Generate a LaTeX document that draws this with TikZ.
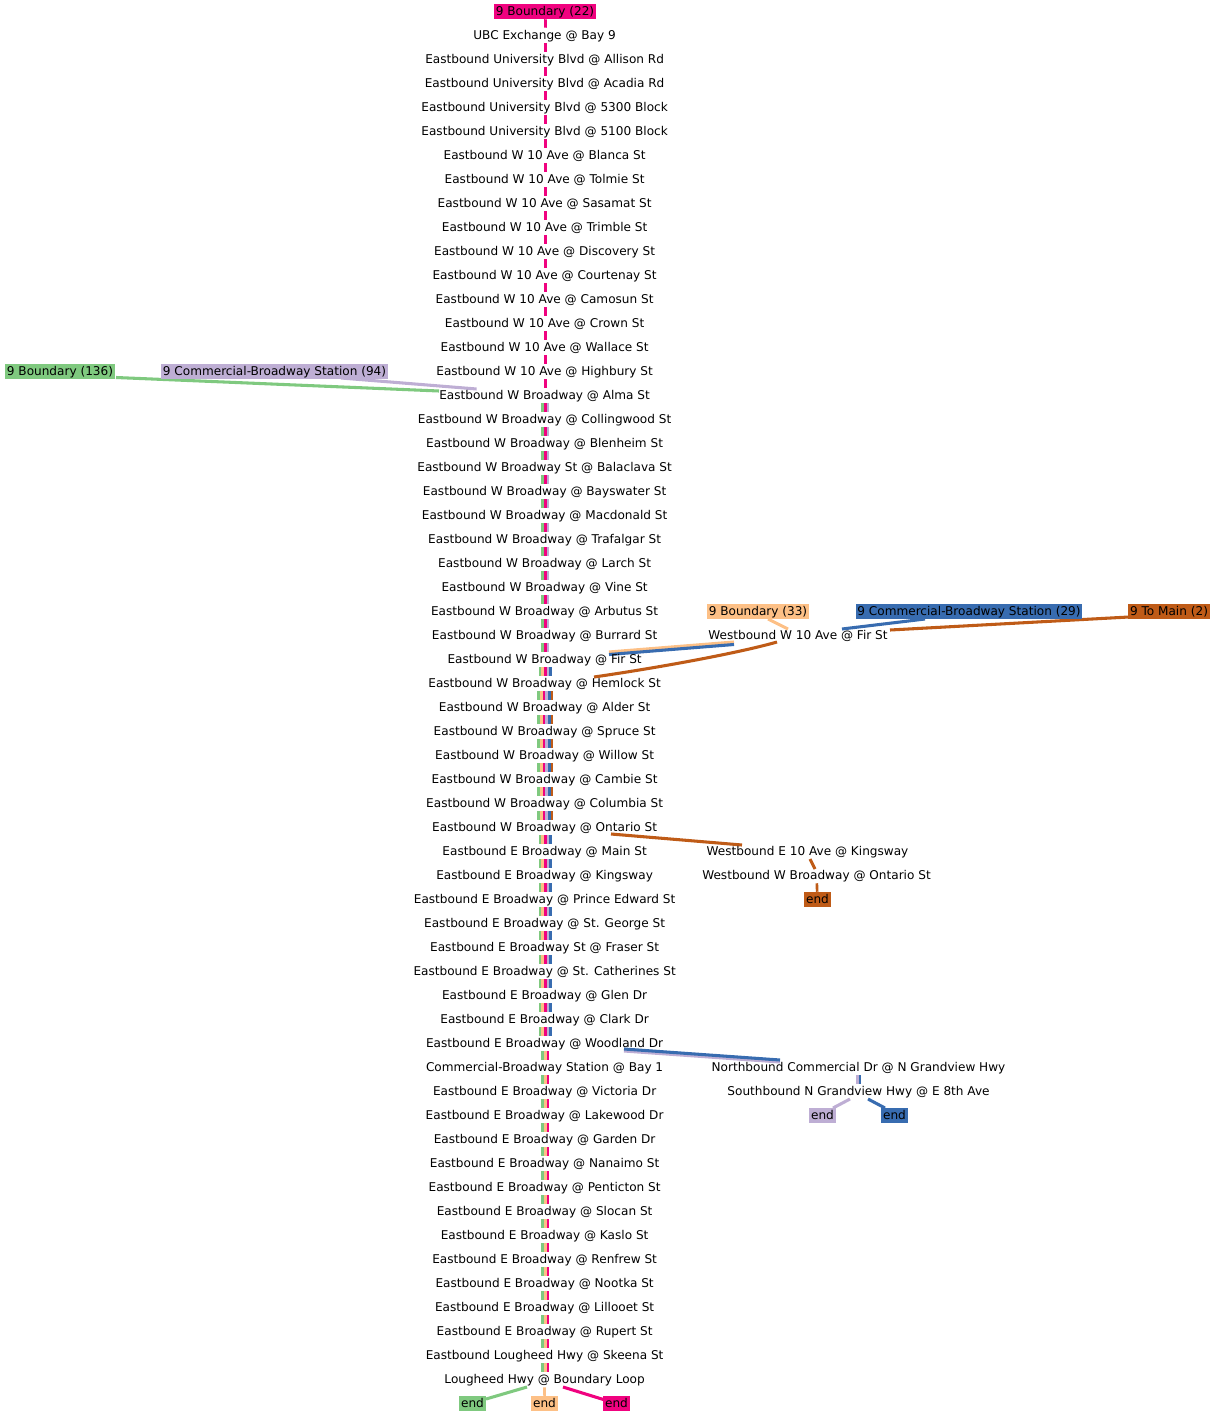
\documentclass[tikz,border=0pt]{standalone}
\usepackage{fontspec}
\setmainfont{DejaVu Sans}
\usetikzlibrary{calc,backgrounds}
\definecolor{ag}{HTML}{7FC97F}
\definecolor{ap}{HTML}{BEAED4}
\definecolor{ao}{HTML}{FDC086}
\definecolor{ab}{HTML}{386CB0}
\definecolor{ak}{HTML}{F0027F}
\definecolor{ar}{HTML}{BF5B17}
\tikzset{
  stop/.style={rectangle,inner xsep=1.4bp,inner ysep=0pt,minimum height=11.25bp,
    font=\fontsize{9.1}{10}\selectfont,text height=8.4bp,text depth=1.9bp,text=black},
  tag/.style={stop,fill=#1},
  edge/.style={line width=2.3bp,draw=#1},
  stripe/.style={line width=2bp,draw=#1},
}
\newcommand{\stripes}[3]{%
  \foreach \i [evaluate=\i as \j using int(\i+1)] in {#1,...,#2}{%
    \foreach \o/\c in {#3}{%
      \begin{scope}[on background layer]
      \draw[stripe=\c,transform canvas={xshift=\o*0.75bp}] (n\i) -- (n\j);
      \end{scope}
    }%
  }%
}
\begin{document}
\begin{tikzpicture}[x=0.75bp,y=-0.75bp]
\useasboundingbox (0,0) rectangle (1214,1416);
\node[tag=ak] (n0) at (545,11.5) {9 Boundary (22)};
\foreach \r/\t in {
1/UBC Exchange @ Bay 9,
2/Eastbound University Blvd @ Allison Rd,
3/Eastbound University Blvd @ Acadia Rd,
4/Eastbound University Blvd @ 5300 Block,
5/Eastbound University Blvd @ 5100 Block,
6/Eastbound W 10 Ave @ Blanca St,
7/Eastbound W 10 Ave @ Tolmie St,
8/Eastbound W 10 Ave @ Sasamat St,
9/Eastbound W 10 Ave @ Trimble St,
10/Eastbound W 10 Ave @ Discovery St,
11/Eastbound W 10 Ave @ Courtenay St,
12/Eastbound W 10 Ave @ Camosun St,
13/Eastbound W 10 Ave @ Crown St,
14/Eastbound W 10 Ave @ Wallace St,
15/Eastbound W 10 Ave @ Highbury St,
16/Eastbound W Broadway @ Alma St,
17/Eastbound W Broadway @ Collingwood St,
18/Eastbound W Broadway @ Blenheim St,
19/Eastbound W Broadway St @ Balaclava St,
20/Eastbound W Broadway @ Bayswater St,
21/Eastbound W Broadway @ Macdonald St,
22/Eastbound W Broadway @ Trafalgar St,
23/Eastbound W Broadway @ Larch St,
24/Eastbound W Broadway @ Vine St,
25/Eastbound W Broadway @ Arbutus St,
26/Eastbound W Broadway @ Burrard St,
27/Eastbound W Broadway @ Fir St,
28/Eastbound W Broadway @ Hemlock St,
29/Eastbound W Broadway @ Alder St,
30/Eastbound W Broadway @ Spruce St,
31/Eastbound W Broadway @ Willow St,
32/Eastbound W Broadway @ Cambie St,
33/Eastbound W Broadway @ Columbia St,
34/Eastbound W Broadway @ Ontario St,
35/Eastbound E Broadway @ Main St,
36/Eastbound E Broadway @ Kingsway,
37/Eastbound E Broadway @ Prince Edward St,
38/Eastbound E Broadway @ St. George St,
39/Eastbound E Broadway St @ Fraser St,
40/Eastbound E Broadway @ St. Catherines St,
41/Eastbound E Broadway @ Glen Dr,
42/Eastbound E Broadway @ Clark Dr,
43/Eastbound E Broadway @ Woodland Dr,
44/Commercial-Broadway Station @ Bay 1,
45/Eastbound E Broadway @ Victoria Dr,
46/Eastbound E Broadway @ Lakewood Dr,
47/Eastbound E Broadway @ Garden Dr,
48/Eastbound E Broadway @ Nanaimo St,
49/Eastbound E Broadway @ Penticton St,
50/Eastbound E Broadway @ Slocan St,
51/Eastbound E Broadway @ Kaslo St,
52/Eastbound E Broadway @ Renfrew St,
53/Eastbound E Broadway @ Nootka St,
54/Eastbound E Broadway @ Lillooet St,
55/Eastbound E Broadway @ Rupert St,
56/Eastbound Lougheed Hwy @ Skeena St,
57/Lougheed Hwy @ Boundary Loop}{
  \node[stop] (n\r) at (544.6,{11.5+24*\r}) {\t};
}
\node[tag=ag] (b136) at (60,371.5) {9 Boundary (136)};
\node[tag=ap] (c94) at (274.5,371.5) {9 Commercial-Broadway Station (94)};
\node[tag=ao] (b33) at (758,611.5) {9 Boundary (33)};
\node[tag=ab] (c29) at (969,611.5) {9 Commercial-Broadway Station (29)};
\node[tag=ar] (m2) at (1169,611.5) {9 To Main (2)};
\node[stop] (wb) at (798,635.5) {Westbound W 10 Ave @ Fir St};
\node[stop] (ka) at (807.5,851.5) {Westbound E 10 Ave @ Kingsway};
\node[stop] (wo) at (816.5,875.5) {Westbound W Broadway @ Ontario St};
\node[tag=ar] (endr) at (817.5,899.5) {end};
\node[stop] (nb) at (858.5,1067.5) {Northbound Commercial Dr @ N Grandview Hwy};
\node[stop] (sb) at (858.5,1091.5) {Southbound N Grandview Hwy @ E 8th Ave};
\node[tag=ap] (endp) at (822.5,1115.5) {end};
\node[tag=ab] (endb) at (894.5,1115.5) {end};
\node[tag=ag] (endg) at (472.5,1403.5) {end};
\node[tag=ao] (endo) at (544.5,1403.5) {end};
\node[tag=ak] (endk) at (616.5,1403.5) {end};
\stripes{0}{15}{0.7/ak}
\stripes{16}{26}{-1.97/ag,0.7/ak,3.37/ap}
\stripes{27}{27}{-4.63/ag,-1.97/ao,0.7/ak,3.37/ap,6.03/ab}
\stripes{28}{33}{-5.97/ag,-3.3/ao,-0.63/ak,2.03/ap,4.7/ab,7.37/ar}
\stripes{34}{42}{-4.63/ag,-1.97/ao,0.7/ak,3.37/ap,6.03/ab}
\stripes{43}{56}{-1.97/ag,0.7/ao,3.37/ak}
\begin{scope}[on background layer]
\draw[edge=ap] ($(c94)+(66.5,6.5)$) -- ($(n16)+(-68,-6.5)$);
\draw[edge=ag] ($(b136)+(56,6)$) -- ($(n16)+(-105.6,-4.5)$);
\draw[edge=ao] ($(b33)+(10,7.5)$) -- ($(wb)+(-10,-6.5)$);
\draw[edge=ab] ($(c29)+(-44,7.5)$) -- ($(wb)+(44,-6.5)$);
\draw[edge=ar] ($(m2)+(-40,5.5)$) -- ($(wb)+(92,-5.5)$);
\draw[edge=ao] ($(wb)+(-64,6.5)$) -- ($(n27)+(64.4,-7.5)$);
\draw[edge=ab] ($(wb)+(-64,9)$) -- ($(n27)+(64.4,-5)$);
\draw[edge=ar] ($(wb)+(-21,6.5)$) .. controls ($(wb)+(-63,18.5)$) and ($(n28)+(105,-14.5)$) .. ($(n28)+(49.4,-6.5)$);
\draw[edge=ar] ($(n34)+(66.4,6.5)$) -- ($(ka)+(-65.5,-6.5)$);
\draw[edge=ar] ($(ka)+(2.5,7.5)$) -- ($(wo)+(-1.5,-6.5)$);
\draw[stripe=ar] (wo) -- (endr);
\draw[edge=ap] ($(n43)+(79.4,7.5)$) -- ($(nb)+(-78.5,-5.5)$);
\draw[edge=ab] ($(n43)+(79.4,5.5)$) -- ($(nb)+(-78.5,-7.5)$);
\draw[stripe=ap,transform canvas={xshift=-1bp}] (nb) -- (sb);
\draw[stripe=ab,transform canvas={xshift=1bp}] (nb) -- (sb);
\draw[edge=ap] ($(sb)+(-8.5,7.5)$) -- ($(endp)+(10.5,-7.5)$);
\draw[edge=ab] ($(sb)+(9.5,7.5)$) -- ($(endb)+(-9.5,-7.5)$);
\draw[edge=ag] ($(n57)+(-17.6,7.5)$) -- ($(endg)+(13.5,-4.5)$);
\draw[stripe=ao] (n57) -- (endo);
\draw[edge=ak] ($(n57)+(18.4,7.5)$) -- ($(endk)+(-11.5,-3.5)$);
\end{scope}
\end{tikzpicture}
\end{document}
